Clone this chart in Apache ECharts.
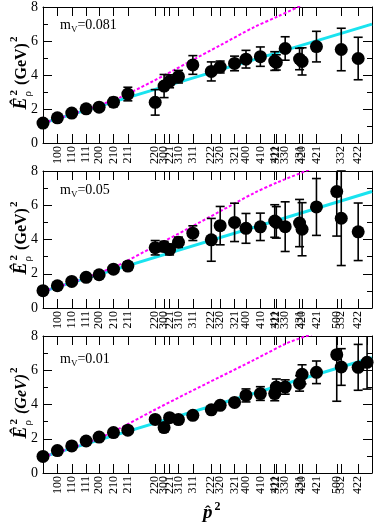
<!DOCTYPE html>
<html><head><meta charset="utf-8">
<script src="https://cdn.jsdelivr.net/npm/echarts@6/dist/echarts.min.js"></script>
<style>html,body{margin:0;padding:0;background:#fff}#c{width:374px;height:524px}</style>
</head><body><div id="c"></div>
<script>
// momentum labels and their p-hat^2 positions (lattice units)
const momLabels = ['000','100','110','111','200','210','211','220','300','221','310','311','222','320','321','400','410','411','322','330','331','420','421','500','332','422','430'];
const momP2 = [0, 0.0979, 0.1958, 0.2937, 0.3820, 0.4799, 0.5777, 0.7639, 0.8244, 0.8618, 0.9223, 1.0202, 1.1459, 1.2063, 1.3042, 1.3820, 1.4799, 1.5777, 1.5885, 1.6489, 1.7468, 1.7639, 1.8618, 2.0000, 2.0307, 2.1459, 2.2064];

// panel 1 : mV = 0.081
const p1Labels = ['000','100','110','111','200','210','211','220','300','221','310','311','222','320','321','400','410','411','322','330','331','420','421','332','422'];
const p1E2  = [1.17,1.48,1.76,2.01,2.11,2.40,2.88,2.39,3.35,3.63,3.90,4.59,4.21,4.47,4.68,4.93,5.08,4.82,4.74,5.56,4.94,4.80,5.67,5.50,4.97];
const p1Err = [0.04,0.05,0.06,0.08,0.10,0.27,0.40,0.75,0.68,0.38,0.37,0.55,0.56,0.35,0.43,0.52,0.57,0.55,0.45,0.69,0.63,0.80,0.90,1.25,1.25];
// panel 2 : mV = 0.05
const p2Labels = ['000','100','110','111','200','210','211','220','300','221','310','311','222','320','321','400','410','411','322','330','331','420','421','500','332','422'];
const p2E2  = [1.01,1.30,1.55,1.79,1.94,2.27,2.45,3.52,3.59,3.42,3.84,4.37,3.98,4.81,5.00,4.65,4.74,5.08,5.00,4.75,4.96,4.60,5.90,6.80,5.24,4.45];
const p2Err = [0.04,0.05,0.06,0.08,0.10,0.12,0.25,0.42,0.30,0.32,0.30,0.43,1.25,1.12,1.12,0.87,0.80,0.95,0.92,1.45,1.38,1.55,1.66,2.60,2.76,1.68];
// panel 3 : mV = 0.01
const p3Labels = ['000','100','110','111','200','210','211','220','300','221','310','311','222','320','321','400','410','411','322','330','331','420','421','500','332','422','430'];
const p3E2  = [0.97,1.31,1.58,1.87,2.10,2.36,2.50,3.13,2.65,3.23,3.12,3.37,3.69,3.95,4.12,4.53,4.64,4.64,5.02,5.02,5.23,5.76,5.88,6.91,6.19,6.17,6.46];
const p3Err = [0.03,0.04,0.05,0.06,0.07,0.08,0.10,0.20,0.24,0.20,0.20,0.12,0.12,0.12,0.15,0.38,0.40,0.42,0.47,0.42,0.45,0.56,0.66,2.72,1.07,1.34,1.56];

// cyan straight fits
const fitX = [0, 2.24];
const fit1 = [1.17, 6.99];
const fit2 = [0.97, 6.80];
const fit3 = [0.94, 6.73];
// magenta dotted curves
const contX1 = [0,0.2,0.382,0.525,0.752,0.98,1.207,1.434,1.6,1.76];
const cont1  = [1.17,1.70,2.22,2.68,3.65,4.70,5.75,6.80,7.45,8.10];
const contX2 = [0,0.2,0.382,0.525,0.752,0.98,1.207,1.434,1.6,1.82];
const cont2  = [0.97,1.50,2.05,2.55,3.57,4.60,5.65,6.70,7.35,8.10];
const contX3 = [0,0.2,0.382,0.525,0.752,0.98,1.207,1.434,1.661,1.83];
const cont3  = [0.94,1.48,2.03,2.62,3.65,4.65,5.62,6.59,7.58,8.10];

const mvTexts = ['0.081','0.05','0.01'];

const XMAX = 2.24;
const SERIF = '"Liberation Serif", "DejaVu Serif", serif';
const tops = [6, 171, 336];
const H = 137;

const posOf = l => momP2[momLabels.indexOf(l)];
const panels = [
  {labels:p1Labels, e:p1E2, err:p1Err, fit:fit1, cx:contX1, cy:cont1},
  {labels:p2Labels, e:p2E2, err:p2Err, fit:fit2, cx:contX2, cy:cont2},
  {labels:p3Labels, e:p3E2, err:p3Err, fit:fit3, cx:contX3, cy:cont3}
];

const grid = [], xAxis = [], yAxis = [], series = [];
panels.forEach((p, i) => {
  grid.push({left:43, right:2, top:tops[i], height:H});
  const ticks = p.labels.filter(l => l !== '000').map(posOf);
  const fmt = v => { let best = '', bd = 1e9; momLabels.forEach((l, k) => { const d = Math.abs(momP2[k]-v); if (d < bd) { bd = d; best = l; } }); return best; };
  xAxis.push({gridIndex:i, type:'value', min:0, max:XMAX, position:'bottom',
    axisLine:{show:true, onZero:false, lineStyle:{color:'#000', width:1}},
    splitLine:{show:false},
    axisTick:{show:true, inside:true, length:9, customValues:ticks, lineStyle:{color:'#000', width:1}},
    axisLabel:{show:true, rotate:90, customValues:ticks, formatter:fmt, fontFamily:SERIF, fontSize:12, color:'#000', margin:3, hideOverlap:false}
  });
  xAxis.push({gridIndex:i, type:'value', min:0, max:XMAX, position:'top',
    axisLine:{show:true, onZero:false, lineStyle:{color:'#000', width:1}},
    splitLine:{show:false},
    axisTick:{show:true, inside:true, length:9, customValues:ticks, lineStyle:{color:'#000', width:1}},
    axisLabel:{show:false}
  });
  yAxis.push({gridIndex:i, type:'value', min:0, max:8, interval:2, position:'left',
    axisLine:{show:true, onZero:false, lineStyle:{color:'#000', width:1}},
    splitLine:{show:false},
    axisTick:{show:true, inside:true, length:9, lineStyle:{color:'#000'}},
    minorTick:{show:true, splitNumber:2, length:5, lineStyle:{color:'#000'}},
    axisLabel:{show:true, fontFamily:SERIF, fontSize:14, color:'#000', margin:5}
  });
  yAxis.push({gridIndex:i, type:'value', min:0, max:8, interval:2, position:'right',
    axisLine:{show:true, onZero:false, lineStyle:{color:'#000', width:1}},
    splitLine:{show:false},
    axisTick:{show:true, inside:true, length:9, lineStyle:{color:'#000'}},
    minorTick:{show:true, splitNumber:2, length:5, lineStyle:{color:'#000'}},
    axisLabel:{show:false}
  });
  const xi = 2*i, yi = 2*i;
  series.push({type:'line', xAxisIndex:xi, yAxisIndex:yi, data:fitX.map((x,k)=>[x,p.fit[k]]),
    showSymbol:false, clip:true, lineStyle:{color:'#19e3ef', width:3, opacity:1}, z:2, silent:true});
  series.push({type:'line', xAxisIndex:xi, yAxisIndex:yi, data:p.cx.map((x,k)=>[x,p.cy[k]]),
    showSymbol:false, smooth:0.3, clip:true, lineStyle:{color:'#ff00ff', width:2, type:[3,2], opacity:1}, z:2, silent:true});
  series.push({type:'custom', xAxisIndex:xi, yAxisIndex:yi,
    data:p.labels.map((l,k)=>[posOf(l), p.e[k], p.err[k]]),
    renderItem:(params, api) => {
      const x = api.value(0), y = api.value(1), e = api.value(2);
      const cs = params.coordSys;
      const t = api.coord([x, y+e]), b = api.coord([x, y-e]);
      let ty = t[1], by = b[1];
      const clipT = ty < cs.y, clipB = by > cs.y + cs.height;
      ty = Math.max(ty, cs.y); by = Math.min(by, cs.y + cs.height);
      const st = {stroke:'#000', lineWidth:1.6};
      const ch = [{type:'line', shape:{x1:t[0], y1:ty, x2:t[0], y2:by}, style:st}];
      if (!clipT) ch.push({type:'line', shape:{x1:t[0]-4.5, y1:ty, x2:t[0]+4.5, y2:ty}, style:st});
      if (!clipB) ch.push({type:'line', shape:{x1:t[0]-4.5, y1:by, x2:t[0]+4.5, y2:by}, style:st});
      return {type:'group', children:ch};
    }, z:3, silent:true});
  series.push({type:'scatter', xAxisIndex:xi, yAxisIndex:yi,
    data:p.labels.map((l,k)=>[posOf(l), p.e[k]]),
    symbol:'circle', symbolSize:13, itemStyle:{color:'#000', opacity:1}, z:4, silent:true});
});

// text layout helper
const mctx = document.createElement('canvas').getContext('2d');
function textRow(pieces, gx, gy, rot, center) {
  let cur = 0, prevStart = 0;
  const placed = [];
  pieces.forEach(p => {
    mctx.font = p.font;
    const w = mctx.measureText(p.t).width;
    let px = (p.stack ? prevStart : cur) + (p.dx || 0);
    placed.push({p, px});
    if (!p.stack) { prevStart = px; cur = px + w; } else { cur = Math.max(cur, px + w); }
  });
  const off = center ? -cur/2 : 0;
  return {type:'group', x:gx, y:gy, rotation:rot, silent:true,
    children: placed.map(({p, px}) => ({type:'text', x:px+off, y:(p.dy||0) + 0.22*p.fs,
      style:{text:p.t, font:p.font, fill:'#000', textAlign:'left', textVerticalAlign:'bottom', align:'left', verticalAlign:'bottom'}}))};
}
const F = (style, fs) => style + ' ' + fs + 'px ' + SERIF;
const graphic = [];
panels.forEach((p, i) => {
  const gItal = i === 2 ? 'bold italic' : 'bold';
  graphic.push(textRow([
    {t:'Ê', font:F('bold italic',18), fs:18},
    {t:'ρ', font:F('normal',11), fs:11, dy:5, dx:1},
    {t:'2', font:F('bold',11), fs:11, dy:-9, stack:true, dx:1},
    {t:'(GeV)', font:F(gItal,16), fs:16, dx:5},
    {t:'2', font:F('bold',11), fs:11, dy:-9, dx:1}
  ], 26, tops[i] + H/2 - 1.5, Math.PI/2, true));
  graphic.push(textRow([
    {t:'m', font:F('normal',14), fs:14},
    {t:'V', font:F('normal',9), fs:9, dy:3},
    {t:'='+mvTexts[i], font:F('normal',14), fs:14}
  ], 60, tops[i] + (i === 2 ? 27.5 : 23.5), 0, false));
});
graphic.push(textRow([
  {t:'p', font:F('bold italic',19), fs:19},
  {t:'ˆ', font:F('bold',17), fs:17, stack:true, dx:2, dy:-1},
  {t:'2', font:F('bold',12), fs:12, dy:-8, dx:2}
], 203, 518, 0, false));

const chart = echarts.init(document.getElementById('c'), null, {renderer:'canvas'});
chart.setOption({animation:false, backgroundColor:'#fff', grid, xAxis, yAxis, series, graphic});
</script></body></html>
